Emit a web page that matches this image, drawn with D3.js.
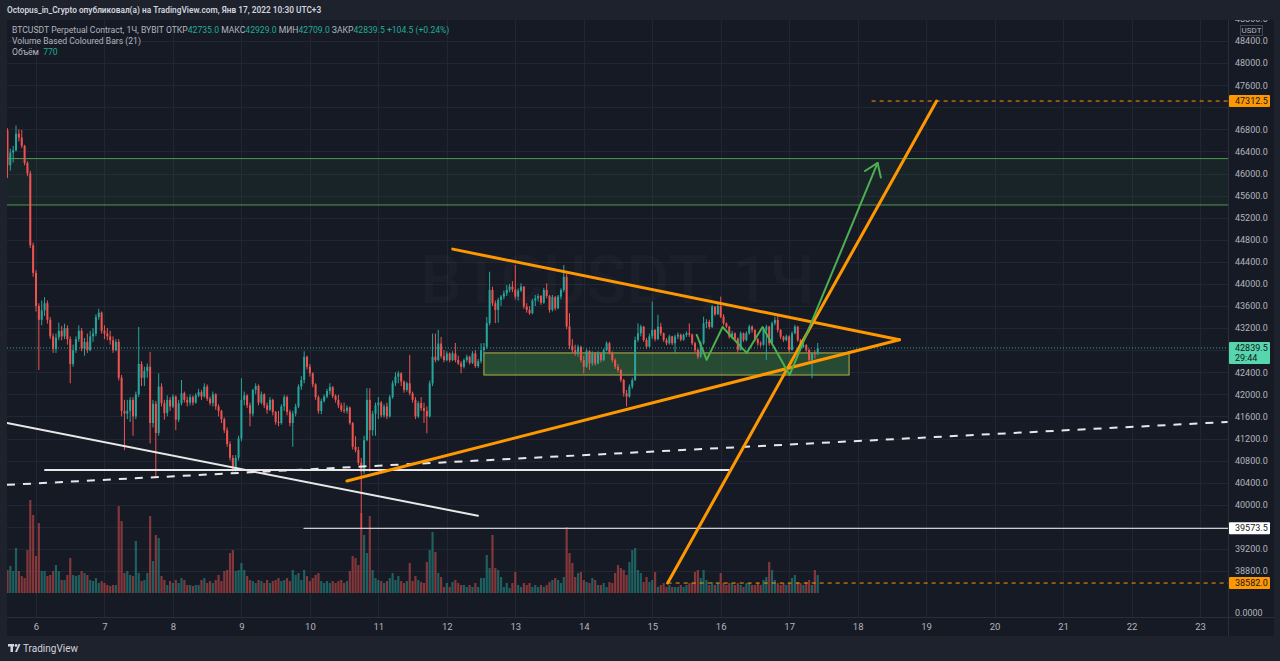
<!DOCTYPE html>
<html><head><meta charset="utf-8">
<script src="https://cdn.jsdelivr.net/npm/d3@7"></script>
<style>html,body{margin:0;padding:0;background:#1e222d;overflow:hidden}svg{display:block;font-family:Roboto,"Noto Sans",sans-serif}</style>
</head><body><svg id="c" width="1280" height="661"></svg>
<script>
// ---------- DATA ----------
const firstCandle = "2022-01-05T14:00:00Z";   // 1H candles
const firstOpen = 46780;
const closes = [
46150,46380,46420,46720,46650,46500,46190,46000,44700,44200,
43600,43350,43520,43650,43350,43050,42820,43030,43150,43050,
43200,43000,42550,42800,43000,43150,42830,42950,42800,43050,
43100,43400,43480,43150,43100,43050,42980,42800,42950,42300,
41700,41650,41700,41900,41600,42000,42550,42300,42420,42500,
41480,41830,41300,42140,41840,41660,41900,41780,41960,41540,
41840,42020,41900,41850,41950,41850,41980,42040,41960,42140,
41920,41840,42000,41780,41700,41550,41350,41100,40850,40650,
40850,41200,41900,41980,41800,41650,42080,42150,41850,42000,
41800,41720,41900,41680,41500,41480,41780,41950,41680,41480,
41650,41780,42140,42260,42680,42500,42380,42180,41950,41700,
41880,41960,42060,42130,41970,41900,41800,41720,41700,41760,
41480,41050,40990,40760,40600,41170,41900,41350,41650,41800,
41850,41620,41780,41600,41950,42200,42320,42380,42230,42080,
42200,42020,41900,41600,41840,41750,41700,41600,42200,42680,
42620,42920,42690,42620,42740,42620,42740,42620,42560,42500,
42620,42680,42570,42740,42510,42600,42800,42860,43290,43890,
43650,43530,43710,43770,43830,43890,43950,43900,43770,43880,
43950,43590,43530,43470,43700,43740,43780,43660,43890,43780,
43530,43760,43560,43770,43890,44130,43230,42880,42800,42740,
42860,42620,42500,42780,42560,42740,42560,42740,42620,42800,
42925,42750,42620,42500,42440,42260,42020,41960,42140,42260,
42985,43106,43226,42985,42864,43050,43166,43000,43226,43106,
42985,42925,43050,42925,43045,43080,42990,43075,43106,43080,
42925,42804,42683,42925,43287,43310,43220,43589,43450,43600,
43407,43287,43226,43045,43106,43010,42804,43106,42985,43106,
43226,43166,43000,42925,42900,43166,43226,42925,43287,43347,
43166,43045,42985,43050,42804,43106,43226,42985,42864,42890,
42804,42623,42743,42735,42839.5];
const highs = [
46820,46450,46500,46870,46800,46790,46520,46220,46050,44750,
44250,43650,43700,43760,43700,43400,43100,43100,43300,43240,
43280,43250,43050,42900,43050,43250,43200,43020,43100,43150,
43200,43450,43550,43500,43250,43200,43150,43050,43000,43000,
42350,41900,41900,41950,41950,42050,43220,42600,42500,42560,
42770,41900,41880,42380,42200,41900,41980,41950,42000,41980,
41900,42260,42050,41960,42000,41980,42020,42100,42080,42200,
42180,41960,42050,42020,41820,41720,41580,41400,41150,40900,
40900,41250,42290,42050,42000,41850,42100,42200,42180,42050,
42020,41850,41950,41920,41700,41700,41820,41990,41980,41720,
41700,41830,42180,42330,42780,42700,42550,42400,42200,41980,
41920,42000,42100,42200,42150,42000,41990,41850,41850,41800,
41780,41500,41240,41050,40850,41250,42110,42110,41700,41850,
41950,41880,41820,41850,41990,42250,42400,42420,42400,42250,
42230,42714,42050,41950,41880,41950,41850,41780,42250,43100,
43100,43170,43040,42800,42780,42760,42780,42930,42700,42600,
42650,42720,42700,42780,42800,42640,42925,42930,43400,44220,
43950,43700,43750,43800,43880,43980,44000,44050,44343,43920,
44011,43960,43650,43600,43730,43800,43820,43800,43930,44011,
43800,43800,43780,43800,43920,44343,44180,43470,43000,42900,
42900,42880,42700,42820,42800,42780,42760,42780,42760,42830,
42960,42950,42780,42650,42550,42460,42280,42080,42180,42300,
43045,43287,43260,43240,43020,43100,43679,43180,43440,43290,
43120,43020,43080,43060,43080,43120,43100,43100,43140,43287,
43100,42950,42830,42960,43407,43360,43350,43620,43600,43650,
43770,43450,43300,43240,43150,43120,43030,43140,43120,43140,
43260,43250,43180,43020,42960,43200,43260,43240,43320,43407,
43420,43180,43060,43080,43070,43140,43260,43240,43000,42940,
42910,42830,42770,42800,42929];
const lows = [
45920,46050,46200,46400,46580,46460,46150,45950,44650,44130,
43500,42440,43250,43420,43280,43000,42750,42750,42980,42980,
43000,42900,42200,42500,42750,42950,42780,42700,42750,42780,
42950,43050,43350,43100,43000,42980,42900,42750,42780,42250,
41600,40990,41550,41500,41250,41550,41950,42150,42150,42300,
41110,41400,40510,41250,41780,41540,41600,41700,41750,41350,
41500,41800,41850,41780,41800,41800,41830,41950,41900,41940,
41880,41800,41780,41720,41600,41480,41300,41050,40800,40600,
40600,40800,41150,41800,41750,41420,41600,42000,41800,41820,
41750,41650,41700,41620,41450,41420,41450,41700,41620,41420,
41050,41600,41750,42080,42200,42450,42320,42130,41900,41650,
41640,41850,41930,42000,41930,41850,41750,41680,41660,41650,
41450,41000,40950,40720,39573.5,40550,41150,40600,41250,41250,
41550,41580,41580,41550,41580,41920,42150,42200,42150,42030,
42050,41980,41850,41550,41570,41700,41480,41295,41580,42150,
42580,42600,42650,42580,42600,42580,42600,42580,42530,42380,
42470,42580,42540,42550,42480,42480,42560,42700,42820,43250,
43600,43290,43300,43600,43720,43780,43850,43850,43720,43700,
43850,43550,43480,43440,43450,43600,43680,43620,43640,43740,
43480,43500,43520,43540,43720,43850,43180,42820,42750,42700,
42680,42580,42380,42480,42440,42520,42520,42540,42580,42600,
42780,42720,42580,42460,42400,42220,41960,41780,41940,42100,
42240,42950,43050,42950,42820,42850,43000,42960,42980,43060,
42950,42890,42900,42890,42743,43000,42960,42970,43040,43040,
42890,42760,42640,42660,42900,43200,43180,43200,43420,43440,
43380,43250,43200,43010,43000,42980,42760,42790,42950,42960,
43080,43120,42960,42880,42860,42880,42623,42880,42900,43250,
43120,43000,42950,42960,42760,42790,43090,42950,42820,42840,
42770,42590,42291,42650,42709];
const volumes = [
990,1160,945,1935,945,730,645,1850,4000,3355,
1590,3010,945,945,730,775,945,1205,945,560,
560,775,1505,775,730,775,945,860,775,560,
515,645,430,515,430,345,300,345,345,3740,
3095,860,945,775,730,2235,860,515,560,860,
3310,1375,2495,2365,730,560,345,515,430,560,
430,645,560,345,345,300,345,345,560,645,
430,515,430,560,775,515,945,990,1720,1850,
945,990,1290,990,730,560,515,430,560,515,
430,560,430,515,560,645,515,560,645,515,
990,775,860,560,990,730,515,645,775,860,
515,430,515,430,515,430,515,560,430,515,
945,1590,1505,1205,3440,2495,1720,3310,990,645,
560,515,430,515,645,860,560,730,515,430,
515,1290,515,730,560,475,430,1335,1850,2625,
1765,860,690,260,430,260,475,560,430,345,
345,260,345,260,430,260,645,645,1635,1075,
2495,1075,990,690,260,430,215,430,905,345,
260,430,345,430,260,345,260,345,260,345,
475,560,645,560,430,690,2840,1720,1290,690,
860,905,560,475,430,645,560,345,345,430,
260,475,430,860,1205,1075,990,775,1335,1850,
1935,990,860,475,690,475,560,905,260,345,
430,260,345,260,260,260,345,260,345,430,
430,905,990,645,990,560,345,475,345,430,
860,430,345,430,430,345,430,345,260,430,
430,345,345,430,345,560,690,1335,990,560,
430,345,430,345,430,645,775,475,430,345,
475,560,345,990,770];

const dayLabels = ["6","7","8","9","10","11","12","13","14","15","16","17","18","19","20","21","22","23"];
const dayTimes = ["2022-01-06","2022-01-07","2022-01-08","2022-01-09","2022-01-10","2022-01-11","2022-01-12","2022-01-13","2022-01-14","2022-01-15","2022-01-16","2022-01-17","2022-01-18","2022-01-19","2022-01-20","2022-01-21","2022-01-22","2022-01-23"];
const priceTicks = [48800,48400,48000,47600,47200,46800,46400,46000,45600,45200,44800,44400,44000,43600,43200,42800,42400,42000,41600,41200,40800,40400,40000,39600,39200,38800];
const hiddenTicks = [47200,42800,39600];

// drawings: [time, price]
const supplyZone = [46270, 45430];
const rangeBox = [["2022-01-12T13:00Z", 42750], ["2022-01-17T21:00Z", 42350]];
const triangleTop = [["2022-01-12T02:05Z", 44630], ["2022-01-18T14:40Z", 42990]];
const triangleBottom = [["2022-01-10T13:00Z", 40430], ["2022-01-18T14:40Z", 42990]];
const breakoutLine = [["2022-01-15T05:25Z", 38582], ["2022-01-19T03:40Z", 47312.5]];
const greenPath = [["2022-01-15T15:35Z",43076],["2022-01-15T19:05Z",42623],["2022-01-16T00:40Z",43220],["2022-01-16T09:05Z",42750],["2022-01-16T14:40Z",43220],["2022-01-17T00:10Z",42351],["2022-01-18T07:00Z",46191]];
const whiteTrend = [["2022-01-05T13:50Z", 41480], ["2022-01-12T10:55Z", 39800]];
const whiteLevel = [["2022-01-06T03:10Z", 40630], ["2022-01-16T02:50Z", 40630]];
const dashedTrend = [["2022-01-05T13:50Z", 40360], ["2022-01-23T09:40Z", 41500]];
const level39573 = [["2022-01-09T21:55Z", 39573.5], ["2022-01-25T00:00Z", 39573.5]];
const level47312 = [["2022-01-18T04:55Z", 47312.5], ["2022-01-25T00:00Z", 47312.5]];
const level38582 = [["2022-01-15T05:25Z", 38582], ["2022-01-25T00:00Z", 38582]];

// ---------- LAYOUT ----------
const svg = d3.select("#c");
const P = {l:7, r:1228, t:20, b:617};
const x = d3.scaleUtc().domain([new Date("2022-01-06T00:00Z"), new Date("2022-01-23T00:00Z")]).range([36, 1200]);
const y = d3.scaleLinear().domain([38800, 48400]).range([571, 41]);
const yv = d3.scaleLinear().domain([0, 4130]).range([593, 497]);

const t0 = new Date(firstCandle);
const candles = closes.map((c, i) => ({
  t: d3.utcHour.offset(t0, i),
  o: i === 0 ? firstOpen : closes[i-1],
  c: c, h: highs[i], l: lows[i], v: volumes[i]
}));

const UP = "#26a69a", DN = "#ef5350";

svg.append("rect").attr("width",1280).attr("height",661).attr("fill","#1e222d");
svg.append("rect").attr("x",7).attr("y",20).attr("width",1267).attr("height",616).attr("fill","#161a25");
svg.append("defs").append("clipPath").attr("id","plot").append("rect")
  .attr("x",P.l).attr("y",P.t).attr("width",P.r-P.l).attr("height",P.b-P.t);
svg.select("defs").append("clipPath").attr("id","axisclip").append("rect")
  .attr("x",P.r).attr("y",P.t).attr("width",50).attr("height",P.b-P.t);

const plot = svg.append("g").attr("clip-path","url(#plot)");
// grid
plot.selectAll("line.hg").data(priceTicks).join("line")
  .attr("x1",P.l).attr("x2",P.r).attr("y1",d=>Math.round(y(d))+0.5).attr("y2",d=>Math.round(y(d))+0.5)
  .attr("stroke","#222632").attr("stroke-width",1);
plot.selectAll("line.vg").data(dayTimes).join("line")
  .attr("y1",P.t).attr("y2",P.b).attr("x1",d=>Math.round(x(new Date(d+"T00:00Z")))+0.5).attr("x2",d=>Math.round(x(new Date(d+"T00:00Z")))+0.5)
  .attr("stroke","#222632").attr("stroke-width",1);

// watermark
plot.append("text").attr("x",(P.l+P.r)/2).attr("y",303).attr("text-anchor","middle")
  .attr("font-size",66).attr("font-weight",500).attr("fill","rgba(255,255,255,0.022)").text("BTCUSDT, 1Ч");

// supply zone
plot.append("rect").attr("x",P.l).attr("width",P.r-P.l)
  .attr("y",y(supplyZone[0])).attr("height",y(supplyZone[1])-y(supplyZone[0]))
  .attr("fill","rgba(76,175,80,0.07)");
supplyZone.forEach(p => plot.append("line").attr("x1",P.l).attr("x2",P.r)
  .attr("y1",y(p)).attr("y2",y(p)).attr("stroke","#4a9e4e").attr("stroke-width",1));

// volume bars
plot.selectAll("rect.vol").data(candles).join("rect")
  .attr("x",d=>x(d.t)-1.1).attr("width",2.2)
  .attr("y",d=>yv(d.v)).attr("height",d=>yv(0)-yv(d.v))
  .attr("fill",d=>d.c>=d.o?"rgba(38,166,154,0.5)":"rgba(239,83,80,0.5)");

// range box
plot.append("rect")
  .attr("x",x(new Date(rangeBox[0][0]))).attr("width",x(new Date(rangeBox[1][0]))-x(new Date(rangeBox[0][0])))
  .attr("y",y(rangeBox[0][1])).attr("height",y(rangeBox[1][1])-y(rangeBox[0][1]))
  .attr("fill","rgba(76,175,80,0.33)").attr("stroke","#b8b545").attr("stroke-width",1);

// candles
const cg = plot.append("g");
cg.selectAll("line").data(candles).join("line")
  .attr("x1",d=>x(d.t)).attr("x2",d=>x(d.t))
  .attr("y1",d=>y(Math.max(d.h,d.o,d.c))).attr("y2",d=>y(Math.min(d.l,d.o,d.c)))
  .attr("stroke",d=>d.c>=d.o?UP:DN).attr("stroke-width",1);
cg.selectAll("rect").data(candles).join("rect")
  .attr("x",d=>x(d.t)-1).attr("width",2)
  .attr("y",d=>y(Math.max(d.o,d.c))).attr("height",d=>Math.max(1,Math.abs(y(d.o)-y(d.c))))
  .attr("fill",d=>d.c>=d.o?UP:DN);

// last price dotted line
const last = candles[candles.length-1];
plot.append("line").attr("x1",P.l).attr("x2",P.r).attr("y1",y(last.c)).attr("y2",y(last.c))
  .attr("stroke","#26a69a").attr("stroke-width",1).attr("stroke-dasharray","1,2");

// drawings
const line = d3.line().x(d=>x(new Date(d[0]))).y(d=>y(d[1]));
function draw(data, color, w, dash){
  const p = plot.append("path").attr("d",line(data)).attr("fill","none")
    .attr("stroke",color).attr("stroke-width",w).attr("stroke-linecap","round").attr("stroke-linejoin","round");
  if (dash) p.attr("stroke-dasharray",dash).attr("stroke-linecap","butt");
  return p;
}
draw(level39573, "#c9cbd1", 1.2);
draw(level47312, "#ff9800", 1, "4,4");
draw(level38582, "#ff9800", 1, "4,4");
draw(whiteTrend, "#e8e8e8", 2);
draw(whiteLevel, "#e8e8e8", 2);
draw(dashedTrend, "#e8e8e8", 2, "8,8");
draw(triangleTop, "#ff9800", 3);
draw(triangleBottom, "#ff9800", 3);
draw(breakoutLine, "#ff9800", 3);
draw(greenPath, "#4caf50", 2);
// arrow head
{
  const a = greenPath[greenPath.length-2], b = greenPath[greenPath.length-1];
  const bx = x(new Date(b[0])), by = y(b[1]), ax = x(new Date(a[0])), ay = y(a[1]);
  const ang = Math.atan2(ay-by, ax-bx), L = 15, s = 35*Math.PI/180;
  const pts = [[bx+L*Math.cos(ang+s), by+L*Math.sin(ang+s)],[bx,by],[bx+L*Math.cos(ang-s), by+L*Math.sin(ang-s)]];
  plot.append("path").attr("d",d3.line()(pts)).attr("fill","none").attr("stroke","#4caf50")
    .attr("stroke-width",2).attr("stroke-linecap","round").attr("stroke-linejoin","round");
}

// ---------- AXES ----------
svg.append("line").attr("x1",P.r+0.5).attr("x2",P.r+0.5).attr("y1",P.t).attr("y2",636).attr("stroke","#2a2e39");
svg.append("line").attr("x1",P.l).attr("x2",1274).attr("y1",P.b+0.5).attr("y2",P.b+0.5).attr("stroke","#2a2e39");

const ya = svg.append("g").attr("clip-path","url(#axisclip)").append("g").attr("transform",`translate(${P.r},0)`)
  .call(d3.axisRight(y).tickValues(priceTicks.filter(t=>!hiddenTicks.includes(t))).tickSize(0).tickPadding(7).tickFormat(d3.format(".1f")));
ya.select(".domain").remove();
ya.selectAll("text").attr("fill","#b2b5be").attr("font-size",9).attr("font-family","Roboto,sans-serif");

const xa = svg.append("g").attr("transform",`translate(0,${P.b})`)
  .call(d3.axisBottom(x).tickValues(dayTimes.map(d=>new Date(d+"T00:00Z"))).tickSize(0).tickPadding(6)
    .tickFormat((d,i)=>dayLabels[i]));
xa.select(".domain").remove();
xa.selectAll("text").attr("fill","#b2b5be").attr("font-size",9.5).attr("font-family","Roboto,sans-serif");

// volume zero label
svg.append("text").attr("x",1235).attr("y",yv(0)+20).attr("dy","0.32em").attr("fill","#b2b5be").attr("font-size",9).text("0.0000");

// USDT box
svg.append("rect").attr("x",1240.5).attr("y",25.5).attr("width",22).attr("height",10).attr("fill","#161a25").attr("stroke","#434651");
svg.append("text").attr("x",1251.5).attr("y",30.5).attr("dy","0.35em").attr("text-anchor","middle").attr("fill","#b2b5be").attr("font-size",8).text("USDT");

// badges
function badge(p, bg, fg, sub){
  const h = sub ? 22 : 12;
  const yy = y(p) - 6;
  svg.append("rect").attr("x",P.r+1).attr("y",yy).attr("width",41).attr("height",h).attr("fill",bg).attr("rx",1);
  svg.append("text").attr("x",1235).attr("y",yy+6).attr("dy","0.35em").attr("fill",fg).attr("font-size",9).text(d3.format(".1f")(p));
  if (sub) svg.append("text").attr("x",1235).attr("y",yy+16).attr("dy","0.35em").attr("fill",fg).attr("font-size",9).text(sub);
}
badge(47312.5, "#ff9800", "#131722");
badge(last.c, "#57d6ad", "#131722", "29:44");
badge(39573.5, "#ffffff", "#131722");
badge(38582, "#ff9800", "#131722");

// ---------- HEADER ----------
svg.append("text").attr("x",7).attr("y",10).attr("dy","0.35em").attr("fill","#d1d4dc").attr("font-size",8.3).attr("font-weight",600)
  .text("Octopus_in_Crypto опубликовал(а) на TradingView.com, Янв 17, 2022 10:30 UTC+3");
const G = "#b2b5be", T = "#22ab94";
const l1 = svg.append("text").attr("x",12).attr("y",30).attr("dy","0.35em").attr("font-size",8.6).attr("fill",G).attr("xml:space","preserve");
[["BTCUSDT Perpetual Contract, 1Ч, BYBIT ОТКР",G],["42735.0",T],[" МАКС",G],["42929.0",T],[" МИН",G],["42709.0",T],[" ЗАКР",G],["42839.5",T],[" +104.5 (+0.24%)",T]]
  .forEach(([s,c]) => l1.append("tspan").attr("fill",c).text(s));
svg.append("text").attr("x",12).attr("y",41).attr("dy","0.35em").attr("font-size",8.6).attr("fill",G).text("Volume Based Coloured Bars (21)");
const l3 = svg.append("text").attr("x",12).attr("y",52).attr("dy","0.35em").attr("font-size",8.6).attr("fill",G).attr("xml:space","preserve");
l3.append("tspan").text("Объём  ");
l3.append("tspan").attr("fill",T).text("770");

// ---------- FOOTER ----------
const lg = svg.append("g").attr("fill","#d1d4dc");
lg.append("rect").attr("x",8).attr("y",644).attr("width",6).attr("height",2.5);
lg.append("rect").attr("x",10.5).attr("y",644).attr("width",2.5).attr("height",8);
lg.append("circle").attr("cx",16).attr("cy",645.5).attr("r",1.4);
lg.append("path").attr("d","M15,652 L18.5,644 L20.5,644 L17,652 Z");
svg.append("text").attr("x",23).attr("y",648).attr("dy","0.35em").attr("fill","#d1d4dc").attr("font-size",10).text("TradingView");
</script>
</body></html>
